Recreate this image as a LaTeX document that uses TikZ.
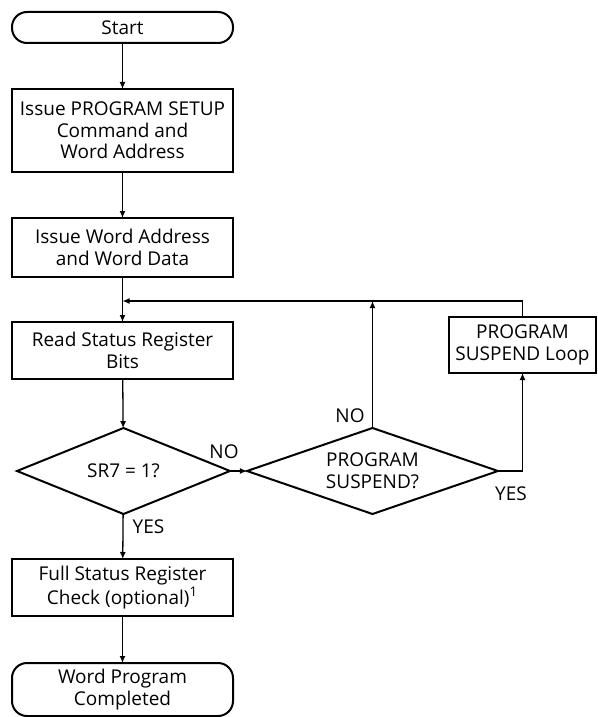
\documentclass[tikz,border=0pt]{standalone}
\usepackage{fontspec}
\setmainfont{Open Sans}
\usepackage{tikz}
\usetikzlibrary{arrows.meta}
\usetikzlibrary{positioning,shapes.geometric}

\begin{document}
\begin{tikzpicture}[
      x=0.5pt, y=-0.5pt,
      font=\fontsize{9.5}{10.8}\selectfont,
      box/.style={draw, line width=1pt, align=center, inner sep=0pt, outer sep=0pt, minimum width=110.5pt},
      term/.style={box, rounded corners=7.5pt},
      decision/.style={draw, diamond, aspect=2.9, line width=1pt, align=center, inner sep=0pt, outer sep=0pt, minimum height=43pt},
      lbl/.style={inner sep=0pt},
      arrow/.style={-{Latex[length=3.5pt, width=3pt]}, line width=0.65pt}
    ]
    \useasboundingbox (0,0) rectangle (598,717);

    \node[term, minimum height=15.5pt] (start) at (122.5,27.5) {Start};
    \node[box, minimum height=41.5pt] (setup) at (122.5,130.5) {Issue PROGRAM SETUP\\Command and\\Word Address};
    \node[box, minimum height=29.5pt] (data) at (122.5,247.5) {Issue Word Address\\and Word Data};
    \node[box, minimum height=28.5pt] (read) at (122.5,350.5) {Read Status Register\\Bits};
    \node[decision, minimum width=106.5pt] (sr7) at (123.5,471) {SR7 = 1?};
    \node[decision, minimum width=125.5pt] (susp) at (372.5,471) {PROGRAM\\SUSPEND?};
    \node[box, minimum width=73.5pt, minimum height=28pt] (loop) at (522.5,345) {PROGRAM\\SUSPEND Loop};
    \node[box, minimum height=28.5pt] (full) at (122.5,587.5) {Full Status Register\\Check (optional)\textsuperscript{1}};
    \node[term, minimum height=26.5pt] (done) at (122.5,689.5) {Word Program\\Completed};

    \coordinate (join) at (122.5,301);

    % labels of the two decisions
    \node[lbl] (no_sr7) at (224,452) {NO};
    \node[lbl] (yes_sr7) at (148.5,527) {YES};
    \node[lbl] (no_susp) at (350,416) {NO};
    \node[lbl] (yes_susp) at (511,494) {YES};

    \draw[arrow] (start) -- (setup);
    \draw[arrow] (setup) -- (data);
    \draw[arrow] (data) -- (read);
    \draw[arrow] (read) -- (sr7);
    \draw[arrow] (sr7) -- (susp);
    \draw[arrow] (sr7) -- (full);
    \draw[arrow] (full) -- (done);

    % suspend loop back to the status read
    \draw[arrow] (susp.north) -- (susp.north |- join);
    \draw[arrow] (susp.east) -| (loop.south);
    \draw[arrow] (loop.north) |- (join);
  \end{tikzpicture}
\end{document}
